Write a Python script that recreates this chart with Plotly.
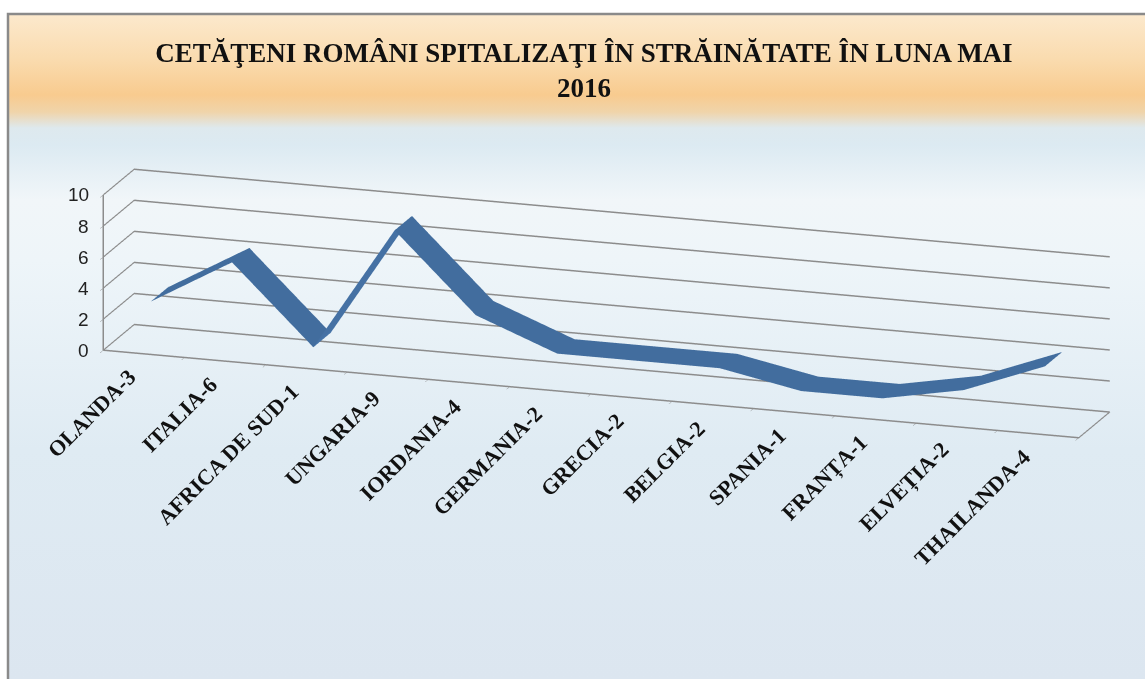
import base64
import plotly.graph_objects as go

# ---- data ----
categories = ["OLANDA-3", "ITALIA-6", "AFRICA DE SUD-1", "UNGARIA-9", "IORDANIA-4",
              "GERMANIA-2", "GRECIA-2", "BELGIA-2", "SPANIA-1", "FRANȚA-1",
              "ELVEȚIA-2", "THAILANDA-4"]
values = [3, 6, 1, 9, 4, 2, 2, 2, 1, 1, 2, 4]
z_ticks = [0, 2, 4, 6, 8, 10]
title_lines = ["CETĂŢENI ROMÂNI SPITALIZAŢI ÎN STRĂINĂTATE ÎN LUNA MAI", "2016"]

W, H = 1145, 679
idx = list(range(len(categories)))
bounds = [i - 0.5 for i in range(len(categories) + 1)]

# ---- background (gradient panel with frame) ----
stops = [(14, "#FCE9CD"), (60, "#FADBAE"), (95, "#F8CB8F"), (112, "#F0D4AA"),
         (128, "#DEE9EE"), (145, "#DCEAF2"), (200, "#F1F6F9"), (260, "#EEF5F9"),
         (450, "#DFEBF3"), (679, "#DCE6F0")]
stop_xml = "".join(
    f'<stop offset="{(p - 14) / (679 - 14):.4f}" stop-color="{c}"/>' for p, c in stops)
svg = (f'<svg xmlns="http://www.w3.org/2000/svg" width="{W}" height="{H}">'
       f'<defs><linearGradient id="g" gradientUnits="userSpaceOnUse" x1="0" y1="14" x2="0" y2="679">'
       f'{stop_xml}</linearGradient></defs>'
       f'<rect x="8" y="14" width="1200" height="720" fill="url(#g)" stroke="#8A8A8A" stroke-width="2.5"/>'
       f'</svg>')
src = "data:image/svg+xml;base64," + base64.b64encode(svg.encode()).decode()

# ---- ribbon (3D line) ----
ribbon = go.Surface(
    x=idx,
    y=[0.22, 0.78],
    z=[values, values],
    surfacecolor=[[0] * len(idx), [0] * len(idx)],
    colorscale=[[0, "#4E80BA"], [1, "#4E80BA"]],
    cmin=0, cmax=1,
    showscale=False,
    hoverinfo="skip",
    lighting=dict(ambient=0.85, diffuse=0.5, specular=0.1, roughness=0.7, fresnel=0.05),
    lightposition=dict(x=100000, y=-100000, z=60000),
)

label_font = dict(family="Liberation Serif", size=22, color="#111111")
annotations = [
    dict(x=i, y=0, z=0, text=f"<b>{c}</b>", textangle=-45, showarrow=False,
         xanchor="right", yanchor="top", font=label_font, yshift=-8)
    for i, c in zip(idx, categories)
]
annotations += [
    dict(x=bounds[0], y=0, z=v, text=str(v), showarrow=False, xanchor="right",
         yanchor="middle", xshift=-12,
         font=dict(family="Liberation Sans", size=19, color="#222222"))
    for v in z_ticks
]

grid = "#8C8C8C"
fig = go.Figure(ribbon)
fig.update_layout(
    width=W, height=H,
    margin=dict(l=0, r=0, t=0, b=0),
    paper_bgcolor="rgba(0,0,0,0)",
    plot_bgcolor="rgba(0,0,0,0)",
    images=[dict(source=src, xref="paper", yref="paper", x=0, y=1, sizex=1, sizey=1,
                 xanchor="left", yanchor="top", sizing="stretch", layer="below")],
    title=dict(text="<b>" + "<br>".join(title_lines) + "</b>",
               x=0.51, xanchor="center", y=1 - 62 / H, yanchor="middle",
               font=dict(family="Liberation Serif", size=27, color="#111111")),
    showlegend=False,
    scene=dict(
        domain=dict(x=[0.059, 1], y=[0.193, 0.913]),
        bgcolor="rgba(0,0,0,0)",
        aspectmode="manual",
        aspectratio=dict(x=4.2, y=0.405, z=0.66),
        camera=dict(eye=dict(x=0.49, y=-1.49, z=0.445), up=dict(x=0, y=0, z=1),
                    center=dict(x=0, y=0, z=0),
                    projection=dict(type="orthographic")),
        xaxis=dict(range=[-0.5, 11.5], tickvals=bounds, ticktext=[""] * len(bounds),
                   ticks="outside", ticklen=8, tickcolor=grid, showgrid=False,
                   showline=True, linecolor=grid, linewidth=3, showbackground=False,
                   zeroline=False, title=dict(text=""), showspikes=False),
        yaxis=dict(range=[0, 1], showticklabels=False, showgrid=False, ticks="",
                   showline=True, linecolor=grid, linewidth=3, showbackground=False,
                   zeroline=False, title=dict(text=""), showspikes=False),
        zaxis=dict(range=[0, 10], tickvals=z_ticks, ticks="outside", ticklen=8,
                   tickcolor=grid, showticklabels=False,
                   showgrid=True, gridcolor=grid, gridwidth=3, showline=True,
                   linecolor=grid, linewidth=3, showbackground=False, zeroline=False,
                   title=dict(text=""), showspikes=False),
        annotations=annotations,
    ),
)

fig.write_html("out.html", config={"displayModeBar": False},
               post_script="document.body.style.margin='0px';document.body.style.overflow='hidden';")
